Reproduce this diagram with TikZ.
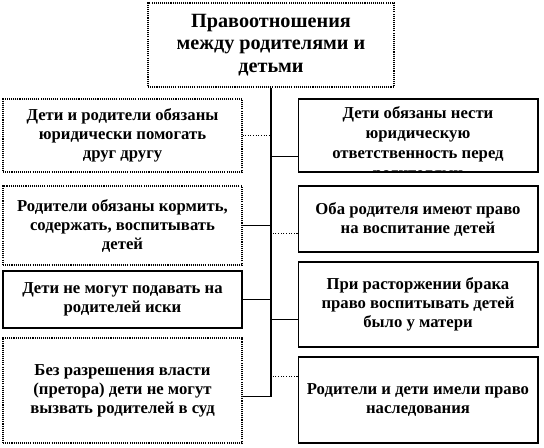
\documentclass[tikz,border=0pt]{standalone}
\usepackage{fontspec}
\setmainfont{Liberation Serif}
\begin{document}
\begin{tikzpicture}[x=0.02cm, y=-0.02cm,
  every node/.style={font=\bfseries\fontsize{9.5}{10.8}\selectfont, align=center, inner sep=2pt},
  dotbox/.style={draw, dash pattern=on 0.6pt off 0.6pt, line width=0.6pt},
  linebox/.style={draw, line width=0.6pt},
  link/.style={line width=0.6pt},
  dotlink/.style={line width=0.6pt, dash pattern=on 0.6pt off 0.9pt}]
  \useasboundingbox (0,0) rectangle (544,447);

  \node[dotbox, minimum width=4.92cm, minimum height=1.68cm, font=\bfseries\fontsize{11.5}{13}\selectfont] (rel) at (271,45)
    {Правоотношения\\ между родителями и\\ детьми};

  \node[dotbox, minimum width=4.78cm, minimum height=1.46cm] (help) at (122.5,135.5)
    {Дети и родители обязаны\\ юридически помогать\\ друг другу};
  \node[dotbox, minimum width=4.78cm, minimum height=1.58cm] (feed) at (122.5,225.5)
    {Родители обязаны кормить,\\ содержать, воспитывать\\ детей};
  \node[linebox, minimum width=4.78cm, minimum height=1.14cm] (nosue) at (122.5,299.5)
    {Дети не могут подавать на\\ родителей иски};
  \node[dotbox, minimum width=4.78cm, minimum height=2.1cm] (court) at (122.5,390.5)
    {Без разрешения власти\\ (претора) дети не могут\\ вызвать родителей в суд};

  \node[linebox, minimum width=4.8cm, minimum height=1.46cm] (duty) at (418,135.5) {};
  \begin{scope}
    \clip ([yshift=0.3pt]duty.south west) rectangle (duty.north east);
    \node[anchor=north, font=\bfseries\fontsize{9.5}{11.4}\selectfont] (dutytext) at ([yshift=-2.2pt]duty.north)
      {Дети обязаны нести\\ юридическую\\ ответственность перед\\ родителями};
  \end{scope}
  \node[linebox, minimum width=4.8cm, minimum height=1.32cm] (raise) at (418,219)
    {Оба родителя имеют право\\ на воспитание детей};
  \node[linebox, minimum width=4.8cm, minimum height=1.7cm] (divorce) at (418,304.5)
    {При расторжении брака\\ право воспитывать детей\\ было у матери};
  \node[linebox, minimum width=4.8cm, minimum height=1.72cm] (inherit) at (418,400)
    {Родители и дети имели право\\ наследования};

  \draw[link] (rel.south) -- (rel.south |- court.-3);
  \draw[dotlink] (help.east) -- (help.east -| rel.south);
  \draw[link] (duty.190) -- (duty.190 -| rel.south);
  \draw[link] (feed.east) -- (feed.east -| rel.south);
  \draw[dotlink] (raise.187) -- (raise.187 -| rel.south);
  \draw[link] (nosue.east) -- (nosue.east -| rel.south);
  \draw[link] (divorce.187) -- (divorce.187 -| rel.south);
  \draw[dotlink] (inherit.169) -- (inherit.169 -| rel.south);
  \draw[link] (court.-3) -- (court.-3 -| rel.south);
\end{tikzpicture}
\end{document}
